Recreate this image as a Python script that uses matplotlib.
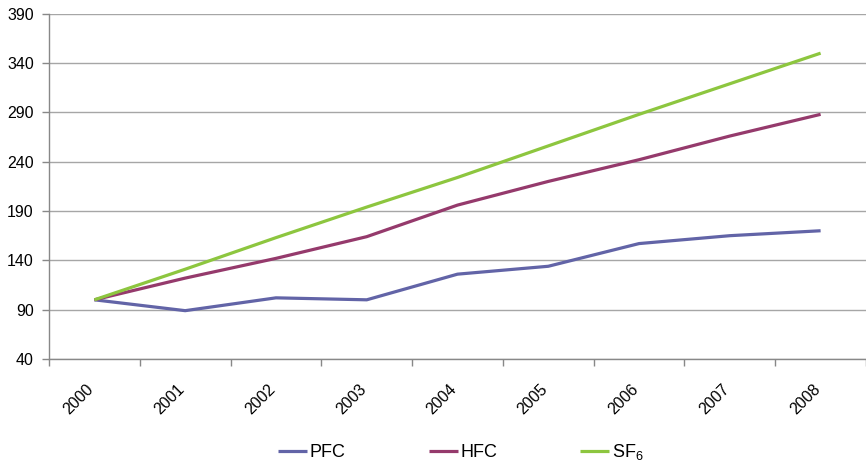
import matplotlib
matplotlib.use("Agg")
import matplotlib.pyplot as plt
import numpy as np

years = ["2000", "2001", "2002", "2003", "2004", "2005", "2006", "2007", "2008"]
pfc = [100, 89, 102, 100, 126, 134, 157, 165, 170]
hfc = [100, 122, 142, 164, 196, 220, 242, 266, 288]
sf6 = [100, 131, 163, 194, 224, 256, 288, 319, 350]
y_ticks = [40, 90, 140, 190, 240, 290, 340, 390]

plt.rcParams["font.family"] = ["Liberation Sans", "DejaVu Sans"]
plt.rcParams["mathtext.default"] = "regular"

fig = plt.figure(figsize=(8.66, 4.66), dpi=100)
ax = fig.add_axes([0.0566, 0.2296, 0.9434, 0.741])

x = np.arange(len(years))
lw = 2.3
ax.plot(x, pfc, color="#6264a7", lw=lw, label="PFC", solid_capstyle="butt")
ax.plot(x, hfc, color="#953a6c", lw=lw, label="HFC", solid_capstyle="butt")
ax.plot(x, sf6, color="#8dc63f", lw=lw, label="SF$_6$", solid_capstyle="butt")

ax.set_xlim(-0.5, len(years) - 0.5)
ax.set_ylim(40, 390)
ax.set_yticks(y_ticks)
ax.set_yticklabels([str(v) for v in y_ticks], fontsize=11.5)
ax.yaxis.grid(True, color="#a6a6a6", lw=1)
ax.set_axisbelow(True)

# category labels a bit left of centre (rotated text), tick marks at boundaries
ax.set_xticks(x - 0.09)
ax.set_xticklabels(years, fontsize=11.5, rotation=45, ha="right", va="top",
                   rotation_mode="anchor")
ax.set_xticks(np.arange(-0.5, len(years) + 0.5, 1), minor=True)
ax.tick_params(axis="x", which="major", length=0, pad=16)
ax.tick_params(axis="x", which="minor", length=5, color="#888888", width=1)
ax.tick_params(axis="y", length=5, color="#888888", width=1, pad=6)

for side in ["top", "right"]:
    ax.spines[side].set_visible(False)
for side in ["left", "bottom"]:
    ax.spines[side].set_color("#888888")
    ax.spines[side].set_linewidth(1)

fig.legend(loc="center", bbox_to_anchor=(461 / 866, 1 - 452 / 466), ncol=3,
           frameon=False, fontsize=13, handlelength=1.6, handletextpad=0.15,
           columnspacing=4.6)

fig.savefig("out.png", dpi=100)
